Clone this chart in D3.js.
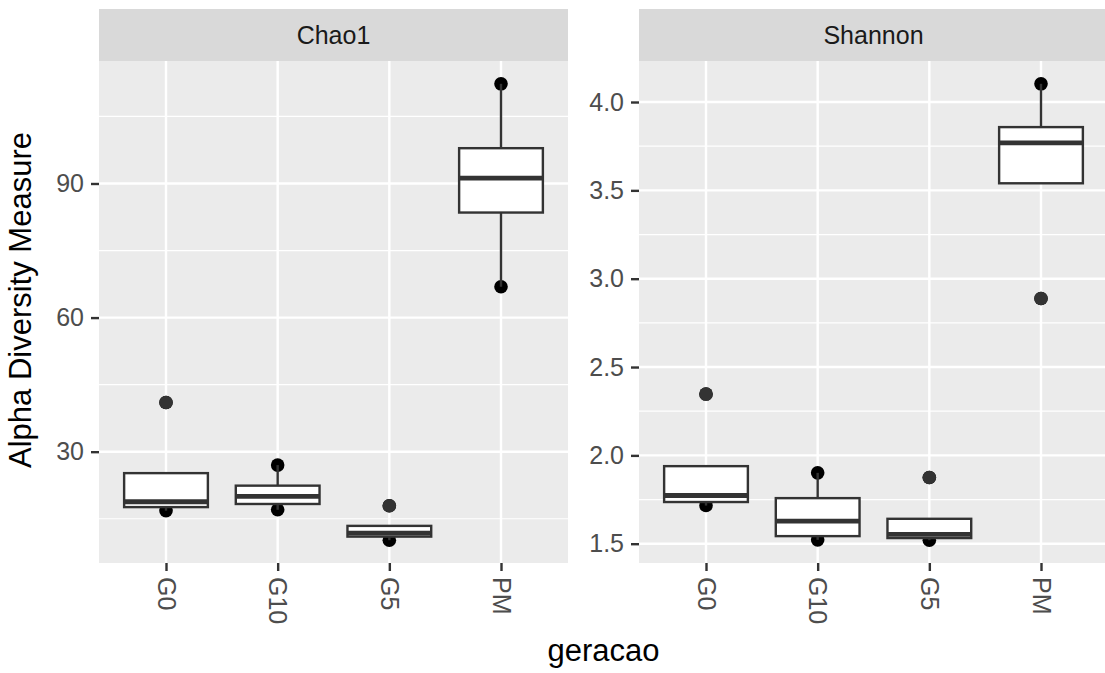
<!DOCTYPE html>
<html>
<head>
<meta charset="utf-8">
<script src="https://cdn.jsdelivr.net/npm/d3@7"></script>
<style>
  body { margin: 0; background: #ffffff; }
  svg text { font-family: "Liberation Sans", Arial, Helvetica, sans-serif; }
</style>
</head>
<body>
<svg id="chart" width="1105" height="673"></svg>
<script>
// Sample groups (geracao)
const groups = ["G0", "G10", "G5", "PM"];

// Chao1 box statistics per group
const chao1WhiskerLow  = [16.8, 17.0, 10.2, 66.9];
const chao1Q1          = [17.6, 18.3, 11.0, 83.5];
const chao1Median      = [18.8, 20.0, 11.8, 91.2];
const chao1Q3          = [25.2, 22.4, 13.4, 97.9];
const chao1WhiskerHigh = [25.2, 27.0, 13.4, 112.3];
const chao1Outliers    = [[41.0], [], [17.9], []];
const chao1Samples     = [[16.8, 41.0], [17.0, 27.0], [10.2, 17.9], [66.9, 112.3]];
const chao1Ticks       = [30, 60, 90];

// Shannon box statistics per group
const shannonWhiskerLow  = [1.716, 1.522, 1.52, 3.540];
const shannonQ1          = [1.736, 1.543, 1.532, 3.540];
const shannonMedian      = [1.773, 1.628, 1.553, 3.769];
const shannonQ3          = [1.939, 1.758, 1.641, 3.858];
const shannonWhiskerHigh = [1.939, 1.901, 1.641, 4.103];
const shannonOutliers    = [[2.347], [], [1.875], [2.888]];
const shannonSamples     = [[1.716, 2.347], [1.522, 1.901], [1.52, 1.875], [2.888, 4.103]];
const shannonTicks       = [1.5, 2.0, 2.5, 3.0, 3.5, 4.0];

function buildRows(lo, q1, med, q3, hi, outs, samples) {
  return groups.map((g, i) => ({
    group: g, lo: lo[i], q1: q1[i], med: med[i], q3: q3[i], hi: hi[i],
    outliers: outs[i], samples: samples[i]
  }));
}

const facets = [
  { name: "Chao1", x0: 99, x1: 568, ticks: chao1Ticks, fmt: d3.format("d"),
    rows: buildRows(chao1WhiskerLow, chao1Q1, chao1Median, chao1Q3, chao1WhiskerHigh, chao1Outliers, chao1Samples) },
  { name: "Shannon", x0: 639, x1: 1108, ticks: shannonTicks, fmt: d3.format(".1f"),
    rows: buildRows(shannonWhiskerLow, shannonQ1, shannonMedian, shannonQ3, shannonWhiskerHigh, shannonOutliers, shannonSamples) }
];

const panelTop = 61, panelBottom = 563;
const stripTop = 9, stripBottom = 61;
const svg = d3.select("#chart");

const FONT_TICK = 25, FONT_TITLE = 31;

facets.forEach(f => {
  const x = d3.scalePoint().domain(groups).range([f.x0, f.x1]).padding(0.6);

  // y domain: data extent expanded by 5% on each side
  const all = f.rows.flatMap(r => [r.lo, r.hi, ...r.outliers, ...r.samples]);
  const [mn, mx] = d3.extent(all);
  const pad = (mx - mn) * 0.05;
  const y = d3.scaleLinear().domain([mn - pad, mx + pad]).range([panelBottom, panelTop]);

  const g = svg.append("g");

  // panel background
  g.append("rect")
    .attr("x", f.x0).attr("y", panelTop)
    .attr("width", f.x1 - f.x0).attr("height", panelBottom - panelTop)
    .attr("fill", "#EBEBEB");

  // minor gridlines halfway between major ticks
  const step = f.ticks[1] - f.ticks[0];
  const minor = [];
  for (let v = f.ticks[0] - step / 2; v <= y.domain()[1]; v += step) {
    if (v >= y.domain()[0]) minor.push(v);
  }
  g.selectAll(".minor").data(minor).join("line")
    .attr("x1", f.x0).attr("x2", f.x1)
    .attr("y1", d => y(d)).attr("y2", d => y(d))
    .attr("stroke", "#ffffff").attr("stroke-width", 1.2);

  g.selectAll(".major").data(f.ticks).join("line")
    .attr("x1", f.x0).attr("x2", f.x1)
    .attr("y1", d => y(d)).attr("y2", d => y(d))
    .attr("stroke", "#ffffff").attr("stroke-width", 2.4);

  g.selectAll(".vmajor").data(groups).join("line")
    .attr("x1", d => x(d)).attr("x2", d => x(d))
    .attr("y1", panelTop).attr("y2", panelBottom)
    .attr("stroke", "#ffffff").attr("stroke-width", 2.4);

  // sample points (drawn first, boxes sit on top)
  const samplePts = f.rows.flatMap(r => r.samples.map(v => ({ group: r.group, v })));
  g.selectAll(".sample").data(samplePts).join("circle")
    .attr("cx", d => x(d.group)).attr("cy", d => y(d.v))
    .attr("r", 6.8).attr("fill", "#000000");

  const bw = x.step() * 0.75;

  // whiskers
  f.rows.forEach(r => {
    g.append("line")
      .attr("x1", x(r.group)).attr("x2", x(r.group))
      .attr("y1", y(r.hi)).attr("y2", y(r.q3))
      .attr("stroke", "#333333").attr("stroke-width", 2.4);
    g.append("line")
      .attr("x1", x(r.group)).attr("x2", x(r.group))
      .attr("y1", y(r.q1)).attr("y2", y(r.lo))
      .attr("stroke", "#333333").attr("stroke-width", 2.4);
  });

  // boxes
  g.selectAll(".box").data(f.rows).join("rect")
    .attr("x", d => x(d.group) - bw / 2).attr("width", bw)
    .attr("y", d => y(d.q3)).attr("height", d => y(d.q1) - y(d.q3))
    .attr("fill", "#ffffff").attr("stroke", "#333333").attr("stroke-width", 2.4);

  // medians
  g.selectAll(".med").data(f.rows).join("line")
    .attr("x1", d => x(d.group) - bw / 2).attr("x2", d => x(d.group) + bw / 2)
    .attr("y1", d => y(d.med)).attr("y2", d => y(d.med))
    .attr("stroke", "#333333").attr("stroke-width", 4.8);

  // outliers
  const outPts = f.rows.flatMap(r => r.outliers.map(v => ({ group: r.group, v })));
  g.selectAll(".out").data(outPts).join("circle")
    .attr("cx", d => x(d.group)).attr("cy", d => y(d.v))
    .attr("r", 6.8).attr("fill", "#333333");

  // strip
  g.append("rect")
    .attr("x", f.x0).attr("y", stripTop)
    .attr("width", f.x1 - f.x0).attr("height", stripBottom - stripTop)
    .attr("fill", "#D9D9D9");
  g.append("text")
    .attr("x", (f.x0 + f.x1) / 2).attr("y", (stripTop + stripBottom) / 2)
    .attr("text-anchor", "middle").attr("dominant-baseline", "central")
    .attr("font-size", FONT_TICK).attr("fill", "#1A1A1A")
    .text(f.name);

  // y axis
  const ya = svg.append("g")
    .attr("transform", `translate(${f.x0},0)`)
    .call(d3.axisLeft(y).tickValues(f.ticks).tickFormat(f.fmt).tickSize(8).tickPadding(7));
  ya.select(".domain").remove();
  ya.selectAll(".tick line").attr("stroke", "#333333").attr("stroke-width", 2.4);
  ya.selectAll(".tick text")
    .attr("fill", "#4D4D4D").attr("font-size", FONT_TICK)
    .attr("font-family", null);

  // x axis
  const xa = svg.append("g")
    .attr("transform", `translate(0,${panelBottom})`)
    .call(d3.axisBottom(x).tickSize(8));
  xa.select(".domain").remove();
  xa.selectAll(".tick line").attr("stroke", "#333333").attr("stroke-width", 2.4);
  xa.selectAll(".tick text")
    .attr("transform", "rotate(90)")
    .attr("x", 14).attr("y", 0).attr("dy", "0.36em")
    .attr("text-anchor", "start")
    .attr("fill", "#4D4D4D").attr("font-size", FONT_TICK)
    .attr("font-family", null);
});

// axis titles
svg.append("text")
  .attr("transform", `translate(31,300) rotate(-90)`)
  .attr("text-anchor", "middle")
  .attr("font-size", FONT_TITLE).attr("fill", "#000000")
  .text("Alpha Diversity Measure");

svg.append("text")
  .attr("x", (99 + 1108) / 2).attr("y", 661)
  .attr("text-anchor", "middle")
  .attr("font-size", FONT_TITLE).attr("fill", "#000000")
  .text("geracao");
</script>
</body>
</html>
